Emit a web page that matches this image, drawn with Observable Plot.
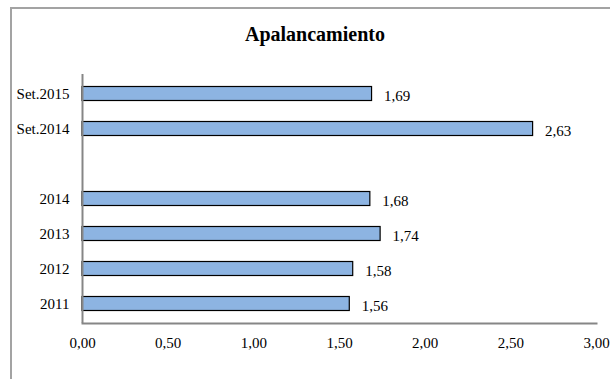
<!DOCTYPE html>
<html>
<head>
<meta charset="utf-8">
<script src="https://cdn.jsdelivr.net/npm/d3@7"></script>
<script src="https://cdn.jsdelivr.net/npm/@observablehq/plot@0.6"></script>
<style>
  html, body { margin: 0; padding: 0; background: #fff; overflow: hidden; }
  #wrap { position: relative; width: 610px; height: 379px; overflow: hidden; }
  #border { position: absolute; left: 10px; top: 7px; width: 700px; height: 500px;
            border-left: 2px solid #a3a3a3; border-top: 2px solid #a3a3a3; }
  #title { position: absolute; left: 0; top: 24px; width: 630px; text-align: center;
           font-family: "Liberation Serif", "Times New Roman", serif; font-weight: bold;
           font-size: 20px; line-height: 20px; color: #000; }
  #chart { position: absolute; left: 0; top: 50px; }
</style>
</head>
<body>
<div id="wrap">
  <div id="border"></div>
  <div id="title">Apalancamiento</div>
  <div id="chart"></div>
</div>
<script>
const categories = ["Set.2015", "Set.2014", " ", "2014", "2013", "2012", "2011"];
const values = [1.69, 2.63, null, 1.68, 1.74, 1.58, 1.56];
const xTicks = [0, 0.5, 1, 1.5, 2, 2.5, 3];

const fmt = v => v.toFixed(2).replace(".", ",");
const data = categories.map((c, i) => ({cat: c, value: values[i]})).filter(d => d.value != null);

const chart = Plot.plot({
  width: 610,
  height: 329,
  marginTop: 24,
  marginBottom: 56,
  marginLeft: 82,
  marginRight: 14,
  style: {fontFamily: "'Liberation Serif', 'Times New Roman', serif", fontSize: "15px", color: "#000", background: "transparent", overflow: "visible"},
  x: {domain: [0, 3], ticks: xTicks, tickFormat: fmt, tickSize: 0, tickPadding: 14, label: null},
  y: {domain: categories, padding: 0, tickSize: 0, tickPadding: 13, label: null},
  marks: [
    Plot.barX(data, {x: "value", y: "cat", fill: "#8DB4E2", stroke: "#000", strokeWidth: 1.2, insetTop: 10.5, insetBottom: 10.5}),
    Plot.text(data, {x: "value", y: "cat", text: d => fmt(d.value), textAnchor: "start", dx: 12, dy: 2, fontSize: 15, fill: "#000"}),
    Plot.ruleX([0], {stroke: "#868686", strokeWidth: 2}),
    Plot.frame({anchor: "bottom", stroke: "#868686", strokeWidth: 2})
  ]
});
document.getElementById("chart").appendChild(chart);
</script>
</body>
</html>
